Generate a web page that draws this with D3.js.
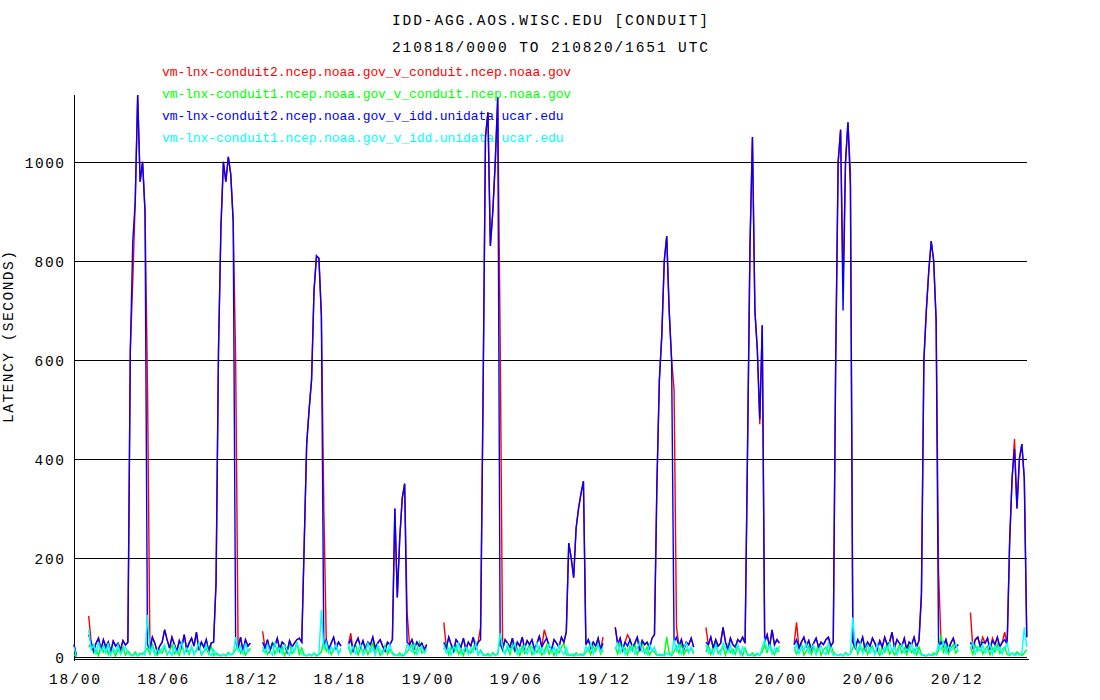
<!DOCTYPE html>
<html><head><meta charset="utf-8">
<script src="https://cdn.jsdelivr.net/npm/d3@7"></script>
<style>
body{margin:0;background:#fff}
svg{display:block}
text{font-family:"Liberation Mono","DejaVu Sans Mono",monospace}
</style>
</head><body>
<svg id="chart" width="1100" height="700"></svg>
<script>
const N = null;
const titleLines = ["IDD-AGG.AOS.WISC.EDU [CONDUIT]", "210818/0000 TO 210820/1651 UTC"];
const yAxisTitle = "LATENCY (SECONDS)";
const seriesNames = [
  "vm-lnx-conduit2.ncep.noaa.gov_v_conduit.ncep.noaa.gov",
  "vm-lnx-conduit1.ncep.noaa.gov_v_conduit.ncep.noaa.gov",
  "vm-lnx-conduit2.ncep.noaa.gov_v_idd.unidata.ucar.edu",
  "vm-lnx-conduit1.ncep.noaa.gov_v_idd.unidata.ucar.edu"
];
const seriesColors = ["#ff0000", "#00ff00", "#0000ff", "#00ffff"];
const xTickHours = [0, 6, 12, 18, 24, 30, 36, 42, 48, 54, 60];
const xTickLabels = ["18/00","18/06","18/12","18/18","19/00","19/06","19/12","19/18","20/00","20/06","20/12"];
const yTicks = [0, 200, 400, 600, 800, 1000];
const yMax = 1135;
const spanHours = 64.85;      // 210818/0000 -> 210820/1651
const stepHours = 1 / 6;      // one value every 10 minutes

// latency (seconds), 6 values per hour
const latRed = [
25,2,N,N,N,N, 83,30,12,28,38,15, 35,20,30,10,32,22, 28,15,33,24,30,620,
760,920,1135,960,1000,900, 550,15,40,28,10,22, 30,55,35,18,40,25, 12,33,20,45,15,28,
38,22,50,14,30,20, 35,12,28,30,150,620, 870,1000,960,1010,975,880, 600,18,40,12,35,22,
28,N,N,N,N,52, 18,35,12,28,22,38, 15,30,25,10,33,20, 28,35,38,30,230,430,
500,560,740,810,805,690, 300,35,15,28,40,18, 30,22,N,N,25,48, 12,28,38,20,33,15,
30,25,40,18,28,35, 22,12,30,25,35,300, 120,240,320,350,90,25, 35,18,30,22,28,15,
25,N,N,N,N,N, N,70,18,40,25,12, 35,28,20,38,15,30, 22,40,18,30,60,520,
1050,1100,830,900,1000,1130, 640,15,35,28,20,38, 12,30,22,40,18,33, 25,35,15,28,42,20,
55,38,22,15,35,28, 20,40,30,50,230,200, 160,260,300,330,355,25, 35,18,30,22,38,15,
40,N,N,N,N,60, 25,38,15,30,45,35, 20,28,40,12,33,25, 30,18,38,45,350,560,
650,800,850,700,600,540, 60,22,35,15,30,25, 38,20,N,N,N,N, 60,25,40,18,35,22,
28,60,30,15,38,25, 20,35,30,40,28,420, 830,1050,700,620,470,670, 30,45,20,55,25,35,
28,N,N,N,N,N, 25,70,18,30,40,22, 33,15,28,38,20,30, 25,35,40,22,30,610,
1000,1065,750,1000,1080,980, 30,18,35,25,40,15, 30,22,38,28,15,33, 20,40,25,30,50,18,
35,28,22,38,15,30, 25,40,20,33,120,600, 700,780,840,800,680,170, 30,22,35,15,28,38,
20,25,N,N,N,N, 90,18,35,40,22,40, 28,38,15,38,25,40, 20,30,50,25,230,360,
440,300,400,430,360,40
];
const latGreen = [
5,0,N,N,N,N, 20,28,8,15,3,22, 10,25,5,18,12,2, 15,8,20,4,12,6,
3,10,2,8,5,12, 18,5,25,10,3,15, 8,20,4,12,25,6, 14,3,22,9,16,5,
20,7,12,25,4,10, 18,6,22,3,8,4, 2,6,3,9,5,7, 15,25,8,20,4,12,
18,N,N,N,N,10, 22,5,14,28,6,18, 9,20,3,15,24,7, 12,30,5,18,4,2,
6,3,8,2,5,10, 35,12,20,5,15,25, 8,14,N,N,20,6, 15,25,4,18,10,22,
5,16,28,8,20,3, 12,24,6,15,9,4, 3,8,2,6,10,18, 25,6,14,30,8,12,
20,N,N,N,N,N, N,15,28,5,20,10, 24,6,16,3,22,12, 8,18,30,5,14,6,
3,7,2,9,4,5, 40,12,8,20,5,25, 10,18,3,22,7,14, 26,5,16,9,20,4,
12,24,6,18,3,15, 8,20,28,5,3,6, 2,8,4,6,3,10, 18,5,22,12,28,6,
14,N,N,N,N,20, 6,30,10,18,4,22, 12,25,5,16,28,8, 20,4,14,10,3,6,
2,5,40,8,3,12, 22,8,28,5,15,10, 18,6,N,N,N,N, 10,24,5,18,30,7,
14,20,4,25,9,16, 6,22,12,3,18,5, 3,8,2,6,4,10, 25,8,30,12,5,18,
10,N,N,N,N,N, 20,6,15,28,4,12, 22,5,18,9,26,3, 14,20,7,24,10,5,
3,6,2,9,4,7, 18,28,6,20,12,25, 5,16,22,8,14,3, 20,10,26,6,15,4,
12,24,8,18,5,22, 9,16,4,20,6,3, 2,5,3,8,4,12, 45,10,22,6,18,25,
8,14,N,N,N,N, 20,5,24,12,28,6, 16,22,4,18,10,26, 7,15,20,5,3,8,
4,10,6,3,8,15
];
const latBlue = [
25,2,N,N,N,N, 45,30,12,28,38,15, 35,20,30,10,32,22, 28,15,33,24,30,620,
840,920,1135,960,1000,900, 25,15,40,28,10,22, 30,55,35,18,40,25, 12,33,20,45,15,28,
38,22,50,14,30,20, 35,12,28,30,150,620, 870,1000,960,1010,975,880, 30,18,40,12,35,22,
28,N,N,N,N,30, 18,35,12,28,22,38, 15,30,25,10,33,20, 28,35,38,30,230,430,
500,560,740,810,805,690, 20,35,15,28,40,18, 30,22,N,N,25,35, 12,28,38,20,33,15,
30,25,40,18,28,35, 22,12,30,25,35,300, 120,240,320,350,30,25, 35,18,30,22,28,15,
25,N,N,N,N,N, N,30,18,40,25,12, 35,28,20,38,15,30, 22,40,18,30,35,520,
1050,1100,830,900,1000,1130, 25,15,35,28,20,38, 12,30,22,40,18,33, 25,35,15,28,42,20,
30,38,22,15,35,28, 20,40,30,50,230,200, 160,260,300,330,355,25, 35,18,30,22,38,15,
28,N,N,N,N,60, 25,38,15,30,22,35, 20,28,40,12,33,25, 30,18,38,45,350,560,
650,800,850,700,600,30, 40,22,35,15,30,25, 38,20,N,N,N,N, 30,25,40,18,35,22,
28,60,30,15,38,25, 20,35,30,40,28,420, 830,1050,700,620,480,670, 30,45,20,55,25,35,
28,N,N,N,N,N, 25,35,18,30,40,22, 33,15,28,38,20,30, 25,35,40,22,30,600,
1000,1065,700,1000,1080,950, 30,18,35,25,40,15, 30,22,38,28,15,33, 20,40,25,30,50,18,
35,28,22,38,15,30, 25,40,20,33,130,600, 700,780,840,800,680,20, 30,22,35,15,28,38,
20,25,N,N,N,N, 30,18,35,40,22,30, 28,38,15,33,25,40, 20,30,35,25,230,360,
420,300,400,430,360,40
];
const latCyan = [
20,0,N,N,N,N, 55,15,25,5,30,12, 22,8,28,3,18,10, 25,5,15,20,8,4,
2,6,3,5,8,4, 85,10,20,4,15,8, 18,25,6,12,3,22, 8,15,30,5,18,10,
22,4,16,28,6,12, 25,8,3,15,4,6, 3,5,2,7,4,6, 40,12,22,6,28,10,
15,N,N,N,N,20, 8,25,12,4,30,10, 18,6,24,14,3,20, 10,28,16,5,4,3,
5,2,8,4,6,95, 15,30,8,20,12,25, 5,18,N,N,28,10, 22,6,15,26,4,12,
28,10,18,3,24,14, 6,20,12,25,5,3, 4,2,6,3,25,18, 10,28,5,16,22,8,
14,N,N,N,N,N, N,25,8,18,4,22, 12,28,6,15,20,5, 18,10,26,4,12,3,
5,2,4,6,3,8, 48,20,6,25,12,18, 28,5,16,10,24,6, 15,22,4,30,8,18,
6,14,26,10,20,4, 24,12,5,18,4,3, 6,2,5,3,4,22, 12,28,6,18,25,10,
20,N,N,N,N,15, 28,8,22,5,16,12, 24,6,18,30,10,14, 5,26,12,20,4,3,
6,2,8,4,5,35, 12,25,6,18,28,8, 20,10,N,N,N,N, 25,8,16,6,22,12,
5,28,18,10,24,6, 15,26,4,20,12,3, 6,2,5,8,3,20, 35,15,24,6,18,10,
22,N,N,N,N,N, 12,26,6,20,14,28, 8,18,25,4,15,22, 10,5,28,14,3,6,
2,5,3,7,4,6, 80,20,12,28,6,16, 24,8,18,4,26,12, 6,20,14,28,10,22,
4,18,25,8,16,12, 26,6,20,10,3,5, 2,6,4,3,8,25, 15,30,8,22,12,18,
26,10,N,N,N,N, 18,28,6,20,12,24, 8,16,26,5,22,14, 20,6,18,28,4,8,
3,6,4,8,60,20
];
const seriesData = [latRed, latGreen, latBlue, latCyan];

const svg = d3.select("#chart");
const plotLeft = 74, plotRight = 1027, plotTop = 95, plotBottom = 657;
const x = d3.scaleLinear().domain([0, spanHours]).range([plotLeft, plotRight]);
const y = d3.scaleLinear().domain([0, yMax]).range([plotBottom, plotTop]);

// titles
svg.selectAll("text.title").data(titleLines).join("text")
  .attr("class", "title")
  .attr("x", 550).attr("y", (d, i) => 25 + i * 27)
  .attr("text-anchor", "middle")
  .attr("font-size", 14.5)
  .attr("textLength", 316).attr("lengthAdjust", "spacing")
  .text(d => d);

// legend
svg.selectAll("text.legend").data(seriesNames).join("text")
  .attr("class", "legend")
  .attr("x", 162).attr("y", (d, i) => 76 + i * 22)
  .attr("font-size", 13)
  .attr("fill", (d, i) => seriesColors[i])
  .attr("textLength", d => d.length * 7.72).attr("lengthAdjust", "spacing")
  .text(d => d);

// y axis with gridlines
const yAxis = d3.axisLeft(y).tickValues(yTicks).tickSize(-(plotRight - plotLeft)).tickPadding(10)
  .tickFormat(d3.format("d"));
const gy = svg.append("g").attr("transform", `translate(${plotLeft},0)`).call(yAxis);
gy.select(".domain").remove();
gy.selectAll(".tick line").attr("stroke", "#000").attr("shape-rendering", "crispEdges");
gy.selectAll(".tick text")
  .attr("font-family", "Liberation Mono").attr("font-size", 14.5).attr("fill", "#000")
  .attr("dy", "0.36em")
  .each(function(d) {
    const s = String(d);
    if (s.length > 1) d3.select(this).attr("textLength", s.length * 9.8).attr("lengthAdjust", "spacing");
  });

// x axis labels
const xAxis = d3.axisBottom(x).tickValues(xTickHours).tickSize(0).tickPadding(15)
  .tickFormat((d, i) => xTickLabels[i]);
const gx = svg.append("g").attr("transform", `translate(0,659)`).call(xAxis);
gx.select(".domain").remove();
gx.selectAll(".tick text")
  .attr("font-family", "Liberation Mono").attr("font-size", 14.5).attr("fill", "#000")
  .attr("textLength", 51).attr("lengthAdjust", "spacing");

// frame lines
svg.append("line").attr("x1", plotLeft + 0.5).attr("x2", plotLeft + 0.5).attr("y1", plotTop).attr("y2", 661)
  .attr("stroke", "#000").attr("shape-rendering", "crispEdges");
svg.append("line").attr("x1", plotLeft).attr("x2", plotRight + 2).attr("y1", 659.5).attr("y2", 659.5)
  .attr("stroke", "#000").attr("stroke-width", 1.5).attr("shape-rendering", "crispEdges");

// y axis title
svg.append("text")
  .attr("transform", "translate(13,337) rotate(-90)")
  .attr("text-anchor", "middle").attr("font-size", 14.5)
  .attr("textLength", 172).attr("lengthAdjust", "spacing")
  .text(yAxisTitle);

// series lines
const line = d3.line()
  .defined(d => d !== null)
  .x((d, i) => x(i * stepHours))
  .y(d => y(d));
svg.append("g").selectAll("path").data(seriesData).join("path")
  .attr("d", line)
  .attr("fill", "none")
  .attr("stroke", (d, i) => seriesColors[i])
  .attr("stroke-width", 1.4)
  .attr("stroke-linejoin", "miter");
</script>
</body></html>
